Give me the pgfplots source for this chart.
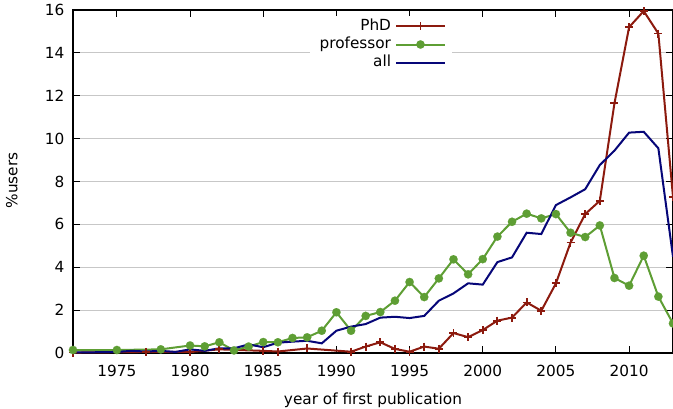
\documentclass[border=0pt]{standalone}
\usepackage{pgfplots}
\pgfplotsset{compat=1.18}
\usepackage{pgfplotstable}
\usepackage{fontspec}
\setmainfont{DejaVu Sans}

\definecolor{phdred}{RGB}{140,26,14}
\definecolor{profgreen}{RGB}{94,158,52}
\definecolor{allblue}{RGB}{6,6,120}

\pgfplotstableread{
year val
1972 0.02
1977 0.05
1980 0.05
1982 0.17
1985 0.10
1986 0.07
1988 0.21
1991 0.06
1992 0.30
1993 0.50
1994 0.19
1995 0.06
1996 0.30
1997 0.20
1998 0.93
1999 0.74
2000 1.07
2001 1.51
2002 1.65
2003 2.36
2004 1.97
2005 3.25
2006 5.15
2007 6.48
2008 7.10
2009 11.65
2010 15.20
2011 15.95
2012 14.90
2013 7.28
}\phd

\pgfplotstableread{
year val
1972 0.14
1975 0.14
1978 0.17
1980 0.35
1981 0.31
1982 0.50
1983 0.12
1984 0.30
1985 0.51
1986 0.50
1987 0.70
1988 0.73
1989 1.04
1990 1.90
1991 1.04
1992 1.73
1993 1.91
1994 2.44
1995 3.31
1996 2.61
1997 3.48
1998 4.37
1999 3.67
2000 4.38
2001 5.43
2002 6.12
2003 6.50
2004 6.28
2005 6.48
2006 5.61
2007 5.41
2008 5.95
2009 3.50
2010 3.14
2011 4.54
2012 2.63
2013 1.38
}\prof

\pgfplotstableread{
year val
1972 0.03
1973 0.03
1974 0.04
1975 0.05
1976 0.10
1977 0.07
1978 0.10
1979 0.05
1980 0.17
1981 0.10
1982 0.22
1983 0.22
1984 0.40
1985 0.27
1986 0.48
1987 0.53
1988 0.57
1989 0.45
1990 1.04
1991 1.23
1992 1.35
1993 1.65
1994 1.69
1995 1.63
1996 1.73
1997 2.44
1998 2.78
1999 3.25
2000 3.19
2001 4.24
2002 4.46
2003 5.61
2004 5.55
2005 6.90
2006 7.26
2007 7.64
2008 8.77
2009 9.44
2010 10.28
2011 10.32
2012 9.55
2013 4.49
}\allusers

\newcommand\chartfont{\fontsize{15.3}{17}\selectfont}

\begin{document}
\begin{tikzpicture}
\begin{axis}[
    at={(0,0)}, anchor=south west,
    scale only axis,
    width=600pt, height=343pt,
    xmin=1972, xmax=2013,
    ymin=0, ymax=16,
    xtick={1975,1980,...,2010},
    ytick={0,2,...,16},
    minor tick num=0,
    tick align=inside,
    major tick length=7pt,
    every tick/.style={black, line width=1pt},
    axis line style={black, line width=1.2pt},
    ymajorgrids,
    grid style={black!22, line width=1pt},
    /pgf/number format/assume math mode=true,
    /pgf/number format/1000 sep={},
    tick label style={font=\chartfont},
    xticklabel style={yshift=-9pt},
    yticklabel style={xshift=-5pt},
    label style={font=\chartfont},
    xlabel={year of first publication},
    ylabel={\%users},
    xlabel style={at={([yshift=-51.5pt]axis description cs:0.5,0)}, anchor=base},
    ylabel style={at={([xshift=-55.5pt]axis description cs:0,0.503)}, anchor=base},
    clip=false,
    every axis plot/.append style={line width=2pt},
    legend cell align=right,
    legend plot pos=right,
    legend image code/.code={%
        \draw[mark repeat=2, mark phase=2, #1, line width=2pt]
        plot coordinates {(0pt,0pt) (24.5pt,0pt) (49pt,0pt)};},
    legend style={
        at={([yshift=-6pt]axis description cs:0.632,1)}, anchor=north east,
        draw=none, fill=white,
        inner xsep=6pt, inner ysep=1pt,
        font=\chartfont,
        row sep=0pt,
        nodes={font=\chartfont, text height=10.8pt, text depth=3pt, inner ysep=2.2pt, inner xsep=4pt},
    },
]
\addplot[phdred, line width=2pt, mark=+, mark size=4pt,
    mark options={line width=1.8pt}] table[x=year, y=val] {\phd};
\addlegendentry{PhD}
\addplot[profgreen, line width=2pt, mark=*, mark size=4.2pt,
    mark options={fill=profgreen, draw=profgreen, line width=0.1pt}] table[x=year, y=val] {\prof};
\addlegendentry{professor}
\addplot[allblue, line width=2pt, no marks] table[x=year, y=val] {\allusers};
\addlegendentry{all}
\end{axis}
\pgfresetboundingbox
\useasboundingbox (-73pt,-55pt) rectangle (600pt,353pt);
\end{tikzpicture}
\end{document}
